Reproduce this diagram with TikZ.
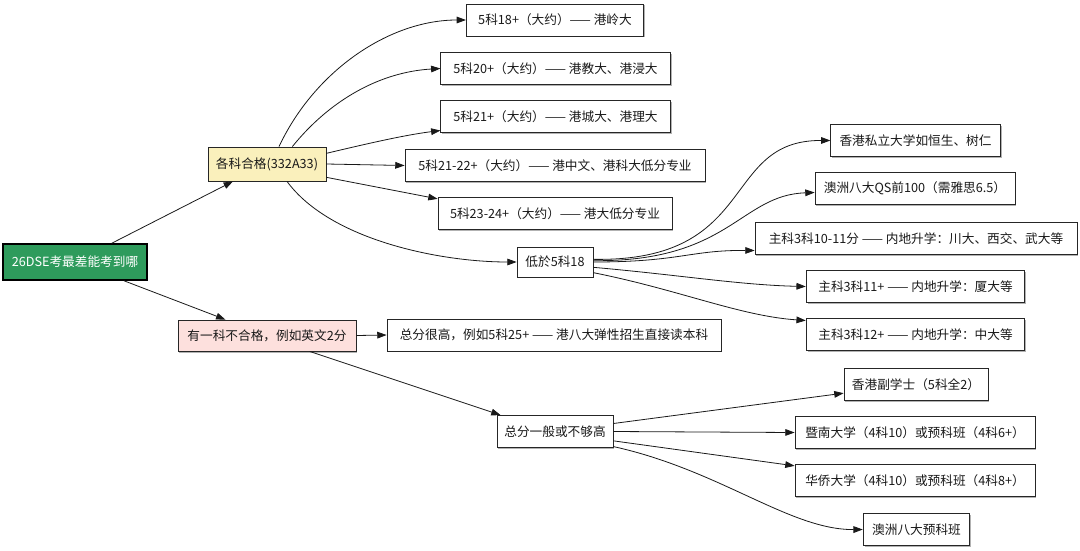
\documentclass[tikz,border=0pt]{standalone}
\usepackage{fontspec}
\setmainfont{Noto Sans CJK SC}
\usetikzlibrary{arrows.meta,shadows}
\definecolor{rootgreen}{HTML}{2E9B5C}
\definecolor{ayellow}{HTML}{FAF0BC}
\definecolor{bpink}{HTML}{FDE0DD}
\begin{document}
\begin{tikzpicture}[x=0.75pt,y=-0.75pt,
  box/.style={draw=black!85, line width=0.6pt, fill=white, text=black!90,
    font=\fontsize{9.5}{11}\selectfont, inner sep=0pt, minimum height=24pt,
    drop shadow={shadow xshift=1.1pt, shadow yshift=-1.1pt, fill=black!30, opacity=1}},
  arr/.style={-{Triangle[length=7pt,width=5pt]}, line width=0.6pt, draw=black!90}]
\useasboundingbox (0,0) rectangle (1080,550);
% nodes
\node[box, fill=rootgreen, text=white, draw=black, line width=1.1pt, minimum width=108pt, minimum height=27pt] (root) at (75,262) {26DSE考最差能考到哪};
\node[box, fill=ayellow, minimum width=88.5pt, minimum height=25.5pt] (A) at (267,164) {各科合格(332A33)};
\node[box, fill=bpink, minimum width=133.5pt, minimum height=23.3pt] (B) at (267,335.5) {有一科不合格，例如英文2分};
\node[box, minimum width=133pt] (A1) at (555,20) {5科18+（大约）—— 港岭大};
\node[box, minimum width=172pt] (A2) at (555.5,68.5) {5科20+（大约）—— 港教大、港浸大};
\node[box, minimum width=172pt] (A3) at (555.5,116.5) {5科21+（大约）—— 港城大、港理大};
\node[box, minimum width=225pt] (A4) at (555,165.5) {5科21-22+（大约）—— 港中文、港科大低分专业};
\node[box, minimum width=175.5pt] (A5) at (555,213.5) {5科23-24+（大约）—— 港大低分专业};
\node[box, minimum width=57pt, minimum height=22.5pt] (A6) at (555,262) {低於5科18};
\node[box, minimum width=127pt] (C1) at (915.5,140.5) {香港私立大学如恒生、树仁};
\node[box, minimum width=150pt] (C2) at (915,188.5) {澳洲八大QS前100（需雅思6.5）};
\node[box, minimum width=241.5pt] (C3) at (916,238.5) {主科3科10-11分 —— 内地升学：川大、西交、武大等};
\node[box, minimum width=164pt] (C4) at (915.5,286.5) {主科3科11+ —— 内地升学：厦大等};
\node[box, minimum width=164pt] (C5) at (915.5,334.5) {主科3科12+ —— 内地升学：中大等};
\node[box, minimum width=250.5pt] (B1) at (554,335) {总分很高，例如5科25+ —— 港八大弹性招生直接读本科};
\node[box, minimum width=87pt] (B2) at (555,431.5) {总分一般或不够高};
\node[box, minimum width=108pt] (D1) at (916,384.5) {香港副学士（5科全2）};
\node[box, minimum width=180pt] (D2) at (915,432.5) {暨南大学（4科10）或预科班（4科6+）};
\node[box, minimum width=180pt] (D3) at (915,480.5) {华侨大学（4科10）或预科班（4科8+）};
\node[box, minimum width=80pt] (D4) at (916.5,529.5) {澳洲八大预科班};
% edges
\draw[arr] (root) -- (A);
\draw[arr] (root) -- (B);
\draw[arr] ([xshift=9pt]A.north) .. controls (315,70) and (390,20) .. (A1.west);
\draw[arr] ([xshift=19pt]A.north) .. controls (330,100) and (380,72) .. (A2.west);
\draw[arr] ([yshift=8pt]A.east) .. controls (370,143) and (405,135) .. ([yshift=-10.5pt]A3.west);
\draw[arr] (A.east) -- (A4.west);
\draw[arr] ([yshift=-10pt]A.east) -- ([yshift=11pt]A5.west);
\draw[arr] ([xshift=15pt]A.south) .. controls (330,240) and (440,262) .. (A6.west);
\draw[arr] ([yshift=2pt]A6.east) .. controls (760,262) and (720,140) .. (C1.west);
\draw[arr] ([yshift=1pt]A6.east) .. controls (730,262) and (740,195) .. ([yshift=-3pt]C2.west);
\draw[arr] (A6.east) .. controls (680,262) and (690,250) .. ([yshift=-9pt]C3.west);
\draw[arr] ([yshift=-4pt]A6.east) .. controls (680,275) and (740,285) .. (C4.west);
\draw[arr] ([yshift=-8pt]A6.east) .. controls (680,290) and (740,316) .. ([yshift=10.5pt]C5.west);
\draw[arr] (B.east) -- (B1.west);
\draw[arr] ([xshift=32pt]B.south) -- ([xshift=3pt]B2.north west);
\draw[arr] ([yshift=6pt]B2.east) -- ([yshift=-6.5pt]D1.west);
\draw[arr] (B2.east) -- (D2.west);
\draw[arr] ([yshift=-7pt]B2.east) -- ([yshift=11pt]D3.west);
\draw[arr] ([yshift=1pt]B2.south east) .. controls (720,470) and (790,530) .. (D4.west);
\end{tikzpicture}
\end{document}
